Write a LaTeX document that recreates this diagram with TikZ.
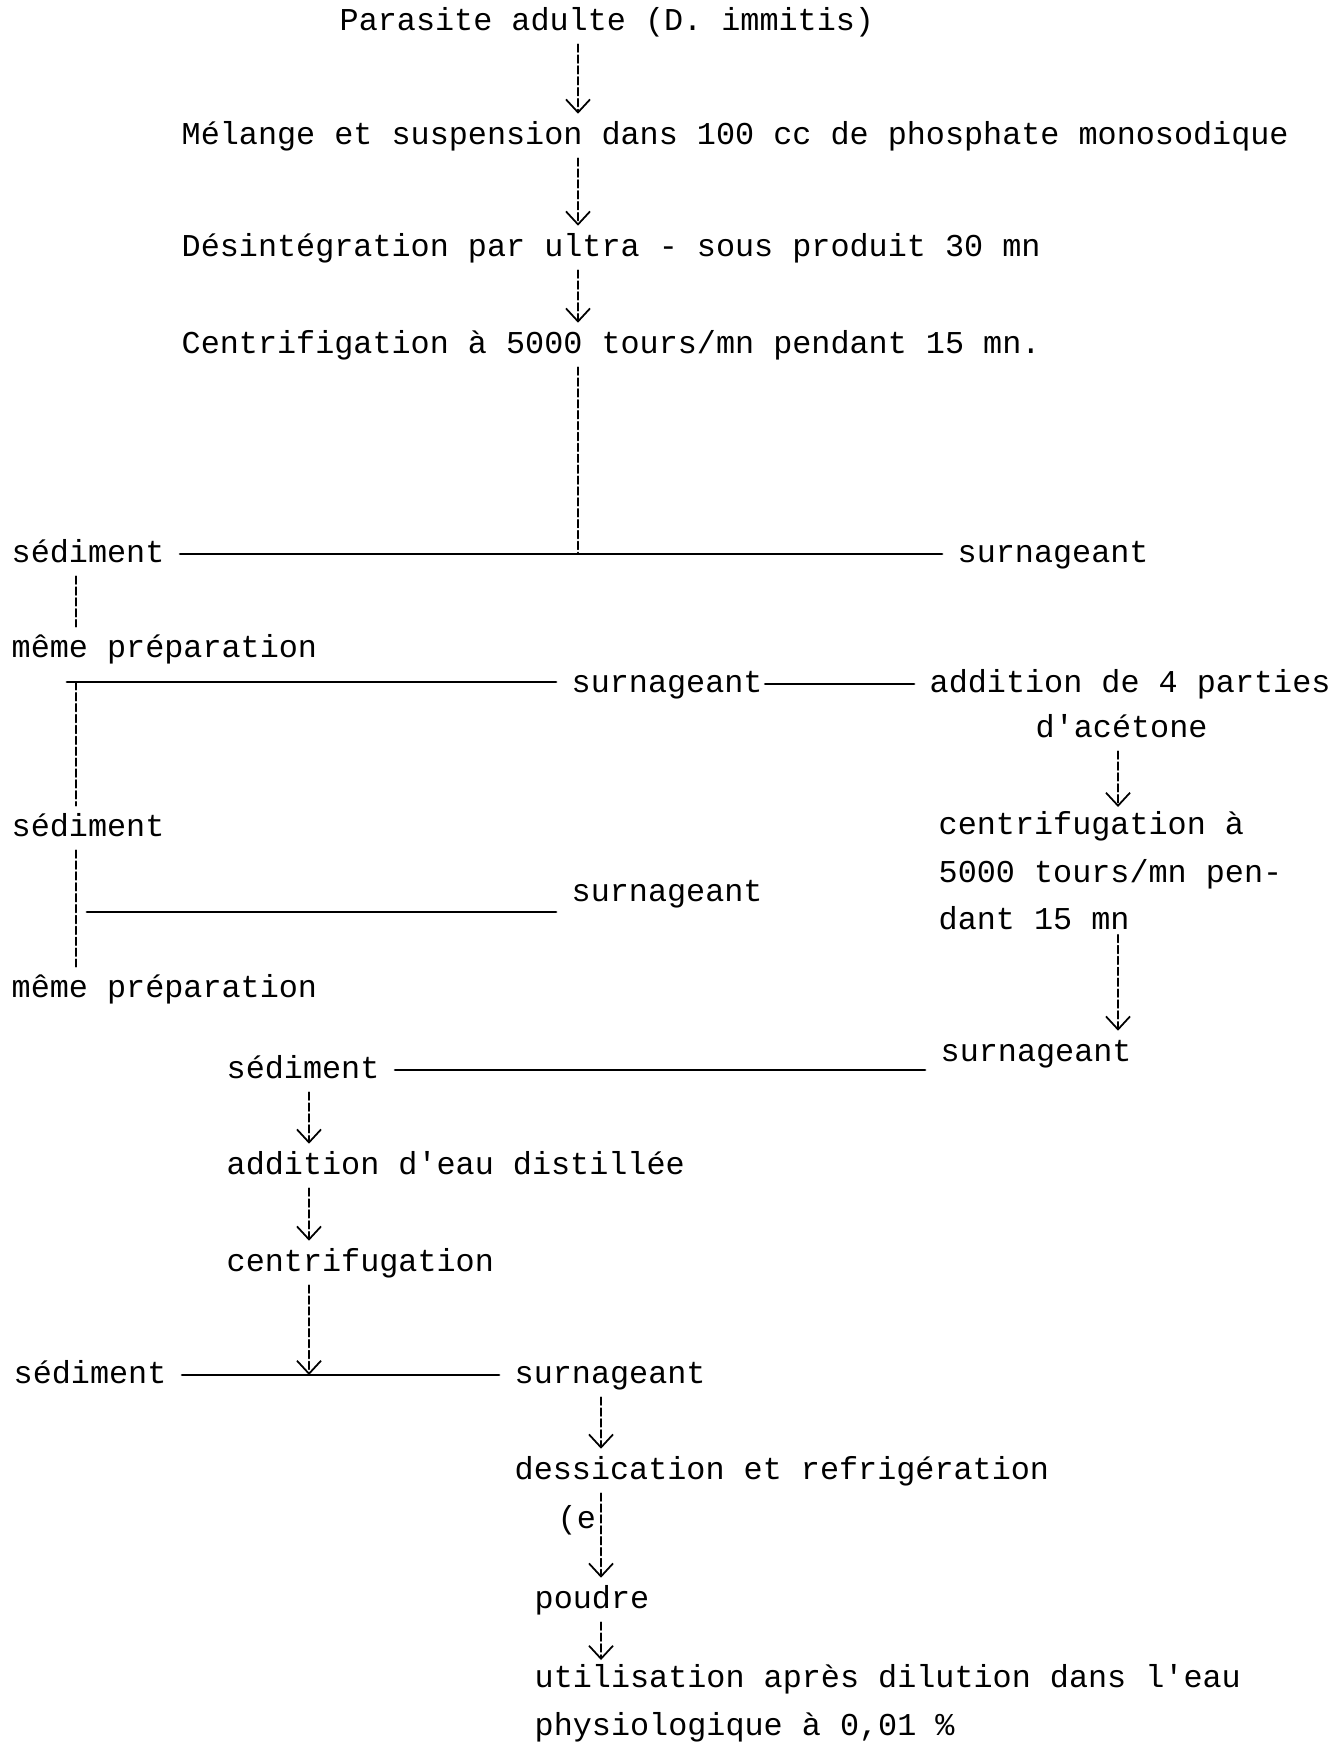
\documentclass[tikz,border=0pt]{standalone}
\usepackage{fontspec}
\setmonofont{Liberation Mono}
\usetikzlibrary{arrows.meta}

\begin{document}
\begin{tikzpicture}[x=0.1mm,y=-0.1mm,line cap=round,line join=round,
  >={Straight Barb[length=1.3mm,width=2.4mm]},
  lbl/.style={anchor=west,inner xsep=1.5mm,inner ysep=0.4mm,text height=0.75em,text depth=0.25em,
    font=\ttfamily\fontsize{9.05pt}{13.5pt}\selectfont},
  blk/.style={lbl,anchor=north west,align=left,text height={},text depth={}},
  flow/.style={->,line width=0.5pt,dash pattern=on 2.2pt off 0.9pt},
  link/.style={line width=0.5pt,dash pattern=on 2.2pt off 0.9pt},
  bar/.style={line width=0.8pt}]
  \useasboundingbox (0,0) rectangle (1332,1745);

  % columns of the vertical connectors
  \coordinate (colA) at (578,0);
  \coordinate (colL) at (76,0);
  \coordinate (colR) at (1118,0);
  \coordinate (colC) at (309,0);
  \coordinate (colE) at (601,0);
  \coordinate (brA) at (67,682);
  \coordinate (brB) at (87,912);

  \node[lbl] (parasite) at (324,22) {Parasite adulte (D. immitis)};
  \node[lbl] (melange) at (166,136) {Mélange et suspension dans 100 cc de phosphate monosodique};
  \node[lbl] (desint) at (166,248) {Désintégration par ultra - sous produit 30 mn};
  \node[lbl] (centri) at (166,345) {Centrifigation à 5000 tours/mn pendant 15 mn.};
  \node[lbl] (sedA) at (-4,554) {sédiment};
  \node[lbl] (surnA) at (942,554) {surnageant};
  \node[lbl] (memeA) at (-4,649) {même préparation};
  \node[lbl] (surnB) at (556,684) {surnageant};
  \node[lbl] (addpart) at (914,684) {addition de 4 parties};
  \node[lbl] (acetone) at (1020,729) {d'acétone};
  \node[lbl] (sedB) at (-4,828) {sédiment};
  \node[blk] (centriB) at (923,807) {centrifugation à\\5000 tours/mn pen-\\dant 15 mn};
  \node[lbl] (surnC) at (556,893) {surnageant};
  \node[lbl] (memeB) at (-4,989) {même préparation};
  \node[lbl] (surnD) at (925,1053) {surnageant};
  \node[lbl] (sedC) at (211,1070) {sédiment};
  \node[lbl] (eau) at (211,1166) {addition d'eau distillée};
  \node[lbl] (centriC) at (211,1263) {centrifugation};
  \node[lbl] (sedD) at (-2,1375) {sédiment};
  \node[lbl] (surnE) at (499,1375) {surnageant};
  \node[lbl] (dess) at (499,1471) {dessication et refrigération};
  \node[lbl] (frag) at (542,1520) {(e};
  \node[lbl] (poudre) at (519,1600) {poudre};
  \node[blk] (util) at (519,1660) {utilisation après dilution dans l'eau\\physiologique à 0,01 \%};

  % main chain
  \draw[flow] (parasite.south -| colA) -- (melange.north -| colA);
  \draw[flow] (melange.south -| colA) -- (desint.north -| colA);
  \draw[flow] (desint.south -| colA) -- (centri.north -| colA);
  \draw[link] (centri.south -| colA) -- (sedA.east -| colA);
  \draw[bar] (sedA.east) -- (surnA.west);

  % left branch
  \draw[link] (sedA.south -| colL) -- (memeA.north -| colL);
  \draw[bar] (brA) -- (brA -| surnB.west);
  \draw[link] (brA -| colL) -- (sedB.north -| colL);
  \draw[link] (sedB.south -| colL) -- (memeB.north -| colL);
  \draw[bar] (brB) -- (brB -| surnC.west);

  % right branch
  \draw[bar] ([xshift=-1.3mm]surnB.east) -- (addpart.west);
  \draw[flow] (acetone.south -| colR) -- (centriB.north -| colR);
  \draw[flow] (centriB.south -| colR) -- (surnD.north -| colR);
  \draw[bar] (sedC.east) -- (sedC.east -| surnD.west);

  % lower chain
  \draw[flow] (sedC.south -| colC) -- (eau.north -| colC);
  \draw[flow] (eau.south -| colC) -- (centriC.north -| colC);
  \draw[flow] (centriC.south -| colC) -- (sedD.east -| colC);
  \draw[bar] (sedD.east) -- (surnE.west);
  \draw[flow] (surnE.south -| colE) -- (dess.north -| colE);
  \draw[flow] (dess.south -| colE) -- (poudre.north -| colE);
  \draw[flow] (poudre.south -| colE) -- (util.north -| colE);
\end{tikzpicture}
\end{document}
